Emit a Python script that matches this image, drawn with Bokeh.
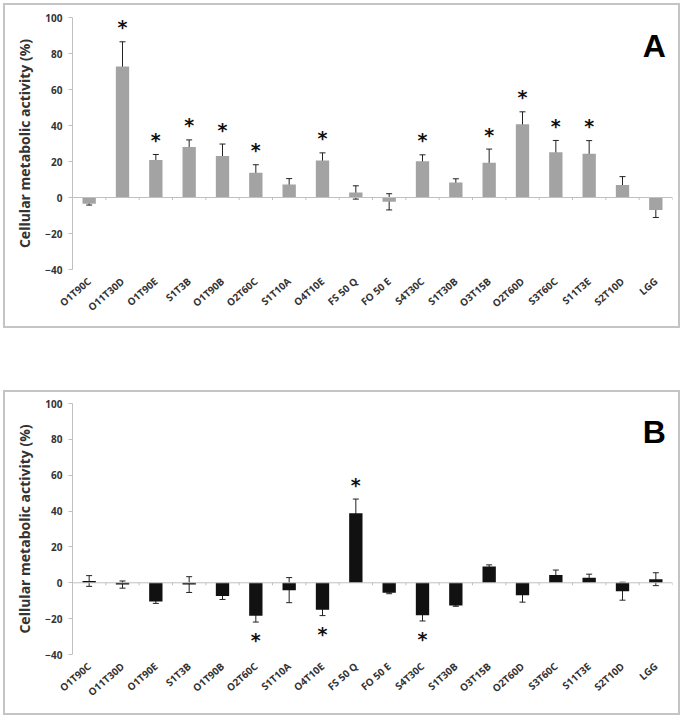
from bokeh.plotting import figure
from bokeh.models import (ColumnDataSource, Whisker, TeeHead, Span, Label, FixedTicker,
                          LinearAxis, Range1d, Spacer)
from bokeh.layouts import column
from bokeh.transform import dodge
from bokeh.embed import file_html
from bokeh.resources import INLINE
from bokeh.core.properties import value

categories = ["O1T90C", "O11T30D", "O1T90E", "S1T3B", "O1T90B", "O2T60C", "S1T10A",
              "O4T10E", "FS 50 Q", "FO 50 E", "S4T30C", "S1T30B", "O3T15B", "O2T60D",
              "S3T60C", "S11T3E", "S2T10D", "LGG"]

# Panel A
values_a = [-3.5, 72.8, 20.9, 28.1, 23.0, 13.7, 7.2, 20.6, 2.8, -2.4, 20.2, 8.3,
            19.3, 40.7, 25.2, 24.3, 6.9, -7.0]
errors_a = [0.7, 13.7, 3.0, 3.9, 6.7, 4.5, 3.3, 4.2, 3.7, 4.5, 3.5, 2.1,
            7.6, 6.9, 6.5, 7.3, 4.7, 4.1]
signif_a = [0, 1, 1, 1, 1, 1, 0, 1, 0, 0, 1, 0, 1, 1, 1, 1, 0, 0]

# Panel B
values_b = [1.0, -1.0, -10.4, -1.0, -7.4, -18.4, -4.1, -15.1, 38.8, -5.6, -18.1, -12.7,
            9.1, -6.9, 4.3, 2.8, -4.7, 2.0]
errors_b = [3.0, 2.0, 1.1, 4.4, 1.9, 3.5, 7.0, 3.2, 7.9, 0.5, 3.2, 0.4,
            0.9, 3.9, 2.8, 2.0, 5.0, 3.6]
signif_b = [0, 0, 0, 0, 0, 1, 0, 1, 1, 0, 1, 0, 0, 0, 0, 0, 0, 0]

y_ticks = [-40, -20, 0, 20, 40, 60, 80, 100]
y_title = "Cellular metabolic activity (%)"

FONT = "Open Sans"
W = 683


def make_panel(vals, errs, sig, bar_color, letter, height, border_top, border_bottom):
    src = ColumnDataSource(dict(
        cats=categories, val=vals,
        upper=[v + e for v, e in zip(vals, errs)],
        lower=[v - e for v, e in zip(vals, errs)],
    ))
    p = figure(x_range=categories, y_range=Range1d(-40, 100), width=W, height=height,
               output_backend="svg", toolbar_location=None,
               min_border_left=72, min_border_right=11,
               min_border_top=border_top, min_border_bottom=border_bottom,
               y_axis_location=None)
    p.outline_line_color = None
    p.xgrid.grid_line_color = None
    p.ygrid.grid_line_color = None
    p.background_fill_color = "white"
    p.border_fill_color = None
    # grey panel frame, 3px inside the figure's edges
    p.styles = {"background-color": "white",
                "box-shadow": "inset 0 0 0 3px #ffffff, inset 0 0 0 5px #c4c4c4"}

    yaxis = LinearAxis(ticker=FixedTicker(ticks=y_ticks))
    yaxis.axis_line_color = "#c0c0c0"
    yaxis.major_tick_line_color = "#c0c0c0"
    yaxis.major_tick_out = 4
    yaxis.major_tick_in = 0
    yaxis.minor_tick_line_color = None
    yaxis.major_label_text_font = FONT
    yaxis.major_label_text_font_style = "bold"
    yaxis.major_label_text_font_size = "10px"
    yaxis.major_label_text_color = "#333333"
    yaxis.major_label_standoff = 6
    yaxis.axis_label = y_title
    yaxis.axis_label_text_font = FONT
    yaxis.axis_label_text_font_style = "bold"
    yaxis.axis_label_text_font_size = "14px"
    yaxis.axis_label_text_color = "#333333"
    yaxis.axis_label_standoff = 8
    p.add_layout(yaxis, "left")

    xa = p.xaxis[0]
    xa.axis_line_color = None
    xa.major_tick_line_color = None
    xa.minor_tick_line_color = None
    xa.major_label_orientation = 0.72
    xa.major_label_text_font = FONT
    xa.major_label_text_font_style = "bold"
    xa.major_label_text_font_size = "10px"
    xa.major_label_text_color = "#333333"
    xa.major_label_standoff = 4

    p.vbar(x="cats", top="val", bottom=0, width=0.4, source=src,
           fill_color=bar_color, line_color=None)

    p.add_layout(Span(location=0, dimension="width", line_color="#c0c0c0", line_width=1))
    p.segment(x0=dodge("cats", 0.5, range=p.x_range), y0=0,
              x1=dodge("cats", 0.5, range=p.x_range), y1=-1.4,
              source=src, line_color="#c0c0c0", line_width=1)

    w = Whisker(base="cats", upper="upper", lower="lower", source=src,
                line_color="#222222", line_width=1,
                upper_head=TeeHead(size=6, line_color="#222222", line_width=1),
                lower_head=TeeHead(size=6, line_color="#222222", line_width=1))
    p.add_layout(w)

    sx, sy, so = [], [], []
    for c, v, e, s in zip(categories, vals, errs, sig):
        if s:
            sx.append(c)
            if v >= 0:
                sy.append(v + e)
                so.append(-14.5)
            else:
                sy.append(v - e)
                so.append(18)
    star_src = ColumnDataSource(dict(x=sx, y=sy, off=so, t=["*"] * len(sx)))
    p.text(x="x", y="y", text="t", y_offset="off", source=star_src,
           text_font=value("DejaVu Sans"), text_font_style="bold",
           text_font_size="19px", text_align="center", text_baseline="middle",
           text_color="#111111")

    p.add_layout(Label(x=17.8, y=84.3, text=letter, text_font="Liberation Sans",
                       text_font_style="bold", text_font_size="32px",
                       text_align="right", text_baseline="alphabetic",
                       text_color="#000000"))
    return p


pa = make_panel(values_a, errors_a, signif_a, "#a3a3a3", "A", 331, 17, 62)
pb = make_panel(values_b, errors_b, signif_b, "#111111", "B", 331, 16, 64)

layout = column(pa, Spacer(height=56, width=W), pb, spacing=0)
open("out.html", "w").write(file_html(layout, INLINE))
